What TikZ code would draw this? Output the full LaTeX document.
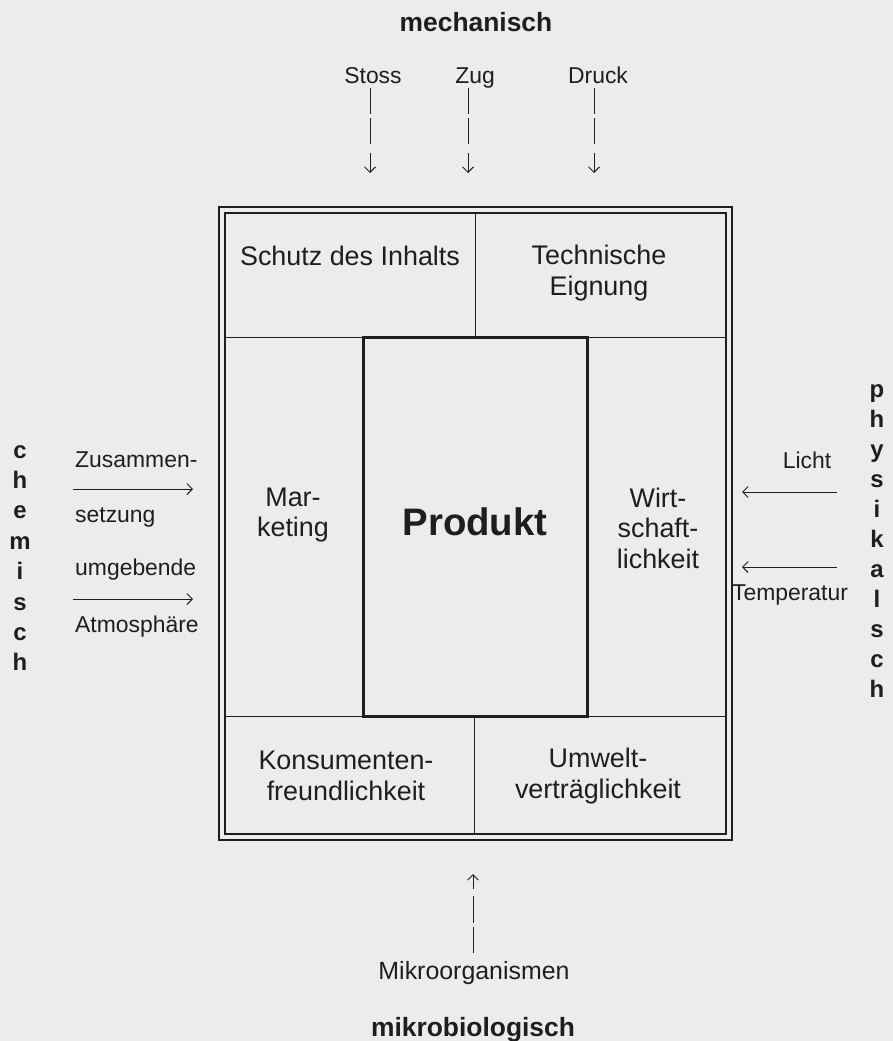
\documentclass[tikz,border=0pt]{standalone}
\usepackage{fontspec}
\setmainfont{Liberation Sans}
\usetikzlibrary{arrows.meta}
\definecolor{paper}{RGB}{236,236,236}
\definecolor{ink}{RGB}{30,30,30}
\begin{document}
\begin{tikzpicture}[x=1bp,y=-1bp,
  every node/.style={inner sep=0pt, text=ink},
  lbl/.style={font=\fontsize{27}{30.5}\selectfont, align=center},
  sml/.style={font=\fontsize{23}{27}\selectfont},
  cat/.style={font=\fontsize{26.5}{30}\selectfont\bfseries},
  vlet/.style={font=\fontsize{24}{29}\selectfont\bfseries, anchor=base},
  arr/.style={draw=ink, line width=0.9bp, -{Straight Barb[length=5.5bp,width=11bp]}},
  frameline/.style={draw=ink, line width=1.8bp},
  thinline/.style={draw=ink, line width=1bp}
]
\useasboundingbox[fill=paper] (0,0) rectangle (893,1041);

% double frame
\draw[frameline] (219,207) rectangle (732,840);
\draw[frameline] (225,213) rectangle (726,834);

% separators
\draw[thinline] (225,337) -- (726,337);
\draw[thinline] (475,213) -- (475,337);
\draw[thinline] (225,716) -- (726,716);
\draw[thinline] (474,716) -- (474,834);

% product box
\node[draw=ink, fill=paper, line width=3bp, minimum width=224bp, minimum height=379bp] (box) at (475,526.5) {};
\node[font=\fontsize{38.5}{44}\selectfont\bfseries] (produkt) at (475,522) {Produkt};

% field labels
\node[lbl] (schutz) at (350,256) {Schutz des Inhalts};
\node[lbl] (technik) at (599,273) {Technische\\Eignung};
\node[lbl] (marketing) at (293,515) {Mar-\\keting};
\node[lbl] (wirtschaft) at (658,528) {Wirt-\\schaft-\\lichkeit};
\node[lbl] (konsument) at (346,776) {Konsumenten-\\freundlichkeit};
\node[lbl] (umwelt) at (598,776) {Umwelt-\\verträglichkeit};

% mechanisch (top)
\node[cat] (mech) at (476,22) {mechanisch};
\node[sml, anchor=base] (stoss) at (373,83) {Stoss};
\node[sml, anchor=base] (zug) at (475,83) {Zug};
\node[sml, anchor=base] (druck) at (598,83) {Druck};
\coordinate (stossA) at (370,88);
\coordinate (stossB) at (370,173);
\coordinate (zugA) at (468,88);
\coordinate (zugB) at (468,173);
\coordinate (druckA) at (594,88);
\coordinate (druckB) at (594,173);
\foreach \a/\b in {stossA/stossB, zugA/zugB, druckA/druckB}
  \draw[arr, dash pattern=on 26bp off 4bp on 26bp off 9bp on 20bp] (\a) -- (\b);

% chemisch (left)
\foreach \l [count=\i] in {c,h,e,m,i,s,c,h}
  \node[vlet] (chem\i) at (20,{458+30.4*(\i-1)}) {\l};
\node[sml, anchor=west] (zus) at (75,460) {Zusammen-};
\node[sml, anchor=west] (setz) at (75,517) {setzung};
\node[sml, anchor=west] (umg) at (75,570) {umgebende};
\node[sml, anchor=west] (atm) at (75,627) {Atmosphäre};
\coordinate (zsA) at (73,489);
\coordinate (zsB) at (193,489);
\coordinate (atA) at (73,599);
\coordinate (atB) at (193,599);
\draw[arr] (zsA) -- (zsB);
\draw[arr] (atA) -- (atB);

% physikalisch (right)
\foreach \l [count=\i] in {p,h,y,s,i,k,a,l,s,c,h}
  \node[vlet] (phys\i) at (877,{397.5+29.95*(\i-1)}) {\l};
\node[sml] (licht) at (807,460) {Licht};
\node[sml] (temp) at (790,595) {Temperatur};
\coordinate (liA) at (837,492);
\coordinate (liB) at (742,492);
\coordinate (teA) at (837,567);
\coordinate (teB) at (742,567);
\draw[arr] (liA) -- (liB);
\draw[arr] (teA) -- (teB);

% mikrobiologisch (bottom)
\node[sml, font=\fontsize{25}{29}\selectfont, anchor=base] (mikro) at (474,979) {Mikroorganismen};
\node[cat, anchor=base] (mikrobio) at (473,1036) {mikrobiologisch};
\coordinate (miA) at (473,953);
\coordinate (miB) at (473,874);
\draw[arr, dash pattern=on 26bp off 4bp on 27bp off 7bp on 15bp] (miA) -- (miB);
\end{tikzpicture}
\end{document}
